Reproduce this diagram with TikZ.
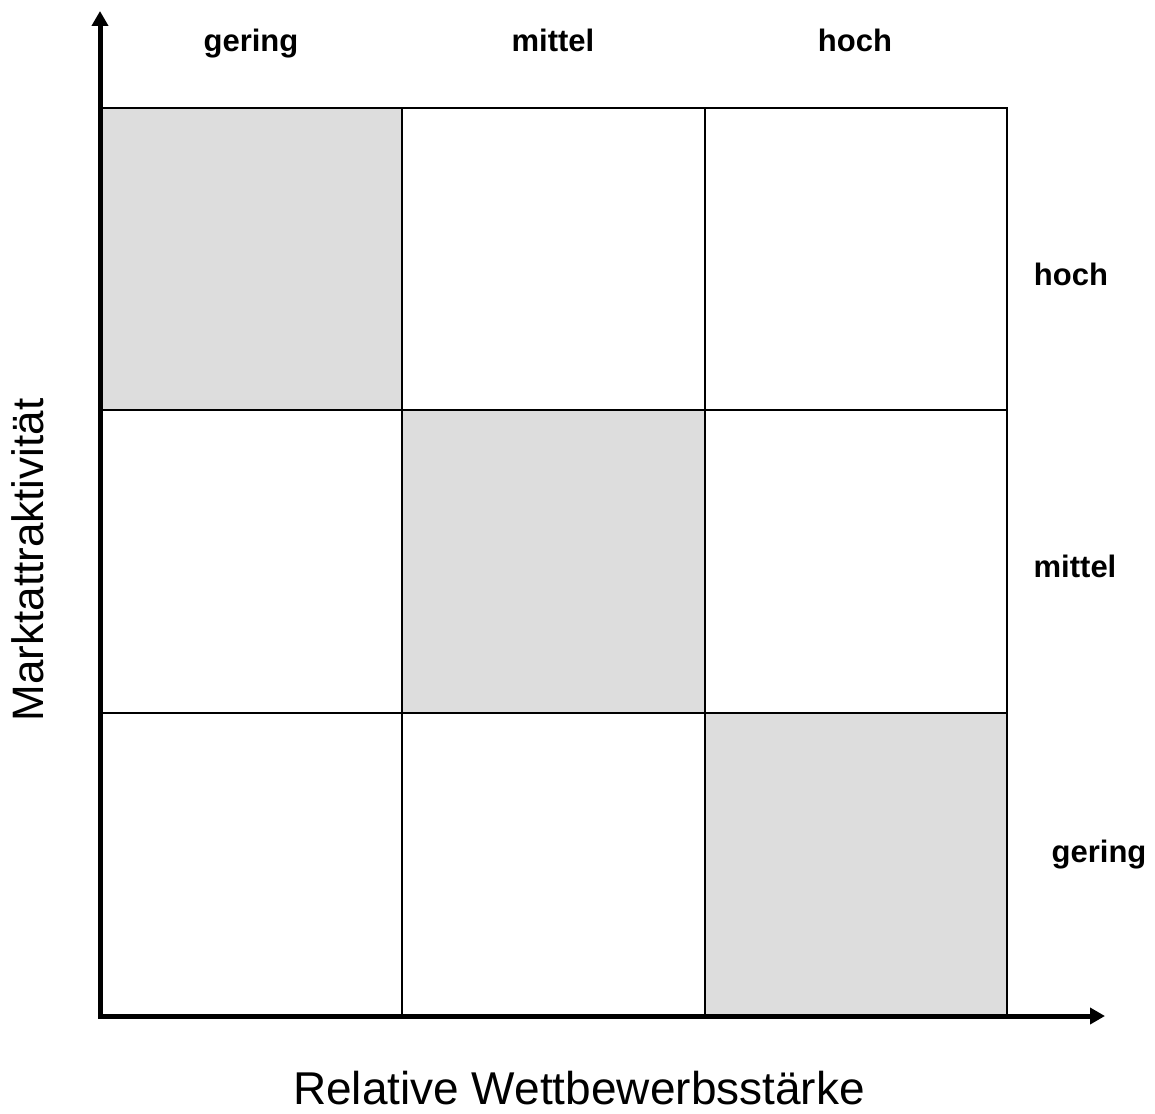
\documentclass[tikz,border=0pt]{standalone}
\usepackage{fontspec}
\setmainfont{Liberation Sans}
\usetikzlibrary{arrows.meta}
\definecolor{cellgray}{RGB}{221,221,221}
\begin{document}
\begin{tikzpicture}[x=1pt,y=-1pt,
  cell/.style={draw=black,line width=2pt,minimum width=302.3pt,minimum height=302.3pt,inner sep=0pt,outer sep=0pt,anchor=north west},
  shaded/.style={cell,fill=cellgray},
  lvl/.style={font=\fontsize{31}{31}\selectfont\bfseries,anchor=base,inner sep=0pt},
  axlabel/.style={font=\fontsize{46}{46}\selectfont,anchor=base,inner sep=0pt},
  axis/.style={line width=5pt,line join=miter,{Triangle[length=15pt,width=16pt]}-{Triangle[length=15pt,width=16pt]}}]
\useasboundingbox (0,0) rectangle (1155,1113);
% cells
\node[shaded] (c11) at (100,108) {};
\node[cell] (c12) at (402.3,108) {};
\node[cell] (c13) at (704.6,108) {};
\node[cell] (c21) at (100,410.3) {};
\node[shaded] (c22) at (402.3,410.3) {};
\node[cell] (c23) at (704.6,410.3) {};
\node[cell] (c31) at (100,712.6) {};
\node[cell] (c32) at (402.3,712.6) {};
\node[shaded] (c33) at (704.6,712.6) {};
% axes
\coordinate (ytip) at (100,11);
\coordinate (origin) at (100,1016);
\coordinate (xtip) at (1105,1016);
\draw[axis] (ytip) -- (origin) -- (xtip);
% column labels
\node[lvl] (tg) at (251,52) {gering};
\node[lvl] (tm) at (553,52) {mittel};
\node[lvl] (th) at (855,52) {hoch};
% row labels
\node[lvl] (rh) at (1071,285) {hoch};
\node[lvl] (rm) at (1075,577) {mittel};
\node[lvl] (rg) at (1099,862) {gering};
% axis labels
\node[axlabel] (xl) at (579,1104) {Relative Wettbewerbsstärke};
\node[axlabel,rotate=90,font=\fontsize{44}{44}\selectfont] (yl) at (43,560) {Marktattraktivität};
\end{tikzpicture}
\end{document}
